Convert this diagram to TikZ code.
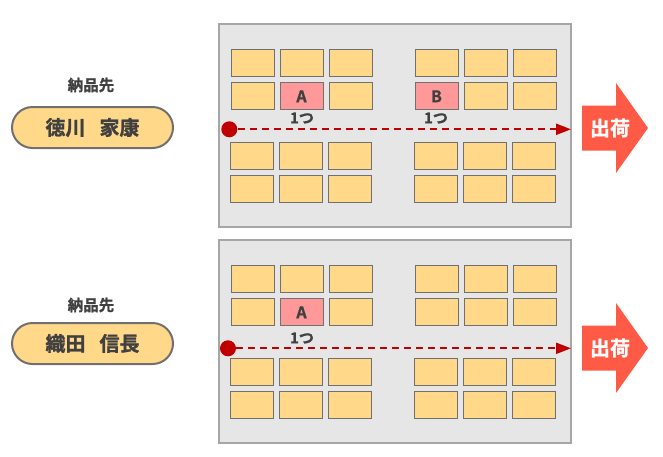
\documentclass[tikz,border=0pt]{standalone}
\usepackage{fontspec}
\setmainfont{Noto Sans CJK JP}[BoldFont=Noto Sans CJK JP Bold, BoldFeatures={FakeBold=1.2}]
\usetikzlibrary{shapes}
\usetikzlibrary{arrows.meta}
\definecolor{shelffill}{HTML}{FFD88A}
\definecolor{pickfill}{HTML}{FF9999}
\definecolor{shelfline}{HTML}{707070}
\definecolor{floorfill}{HTML}{E6E6E6}
\definecolor{floorline}{HTML}{A6A6A6}
\definecolor{routered}{HTML}{C00000}
\definecolor{shipred}{HTML}{FF5A45}
\definecolor{txt}{HTML}{404040}
\tikzstyle{every picture}=[x=1pt, y=-1pt]
\tikzstyle{floor}=[draw=floorline, fill=floorfill, line width=2pt, minimum width=352pt, minimum height=203pt, inner sep=0pt]
\tikzstyle{shelf}=[draw=shelfline, fill=shelffill, line width=1pt, minimum width=43pt, minimum height=27pt, inner sep=0pt, text=txt, font=\bfseries\fontsize{16}{16}\selectfont]
\tikzstyle{pick}=[shelf, fill=pickfill]
\tikzstyle{customer}=[rounded rectangle, draw=shelfline, fill=shelffill, line width=2pt, minimum width=161pt, minimum height=41pt, inner sep=0pt, text=txt, font=\bfseries\fontsize{20}{20}\selectfont]
\tikzstyle{caption}=[text=txt, font=\bfseries\fontsize{15.5}{15.5}\selectfont, inner sep=0pt]
\tikzstyle{count}=[text=txt, font=\bfseries\fontsize{15}{15}\selectfont, inner sep=0pt]
\tikzstyle{start}=[circle, fill=routered, minimum size=16pt, inner sep=0pt]
\tikzstyle{route}=[routered, line width=2pt, dash pattern=on 7pt off 5pt, -{Triangle[length=15pt,width=11pt]}]
\tikzstyle{shiplabel}=[text=white, font=\bfseries\fontsize{20}{20}\selectfont, inner sep=0pt]
\newcommand{\shiparrow}[1]{%
  \fill[shipred] (582,#1-22.5) -- (616,#1-22.5) -- (616,#1-45) -- (648,#1)
    -- (616,#1+45) -- (616,#1+22.5) -- (582,#1+22.5) -- cycle;}

\begin{document}
\begin{tikzpicture}
	\useasboundingbox (0,0) rectangle (663,456);

	% floors
	\node[floor] (f_1) at (395,125.5) {};
	\node[floor] (f_2) at (395,341.5) {};

	% shelves: p = panel, row, column
	\foreach \p/\dy in {1/0, 2/216}{
	  \foreach \x [count=\c] in {252.5,301.5,350.5,436.5,485.5,534.5}{
	    \node[shelf] (s_\p_1_\c) at (\x,63.3+\dy) {};
	    \node[shelf] (s_\p_2_\c) at (\x,96.3+\dy) {};
	    \node[shelf] (s_\p_3_\c) at (\x-1,156.3+\dy) {};
	    \node[shelf] (s_\p_4_\c) at (\x-1,189.3+\dy) {};
	  }
	}
	\node[pick] (a_1) at (s_1_2_2) {A};
	\node[pick] (b_1) at (s_1_2_4) {B};
	\node[pick] (a_2) at (s_2_2_2) {A};

	\node[count] (n_a1) at (302,118) {1つ};
	\node[count] (n_b1) at (436,118) {1つ};
	\node[count] (n_a2) at (302,338) {1つ};

	% picking routes
	\node[start] (st_1) at (229.3,129.3) {};
	\coordinate (en_1) at (571,129.3);
	\draw[route] (st_1) -- (en_1);
	\node[start] (st_2) at (228,348.3) {};
	\coordinate (en_2) at (571,348.3);
	\draw[route] (st_2) -- (en_2);

	% shipping
	\shiparrow{128}
	\node[shiplabel] (sl_1) at (610,128) {出荷};
	\shiparrow{348}
	\node[shiplabel] (sl_2) at (610,348) {出荷};

	% customers
	\node[caption] (c_1) at (91,85) {納品先};
	\node[customer] (k_1) at (92.5,127.5) {徳川\hspace{0.7em}家康};
	\node[caption] (c_2) at (91,305) {納品先};
	\node[customer] (k_2) at (92.5,343.5) {織田\hspace{0.7em}信長};

\end{tikzpicture}
\end{document}
